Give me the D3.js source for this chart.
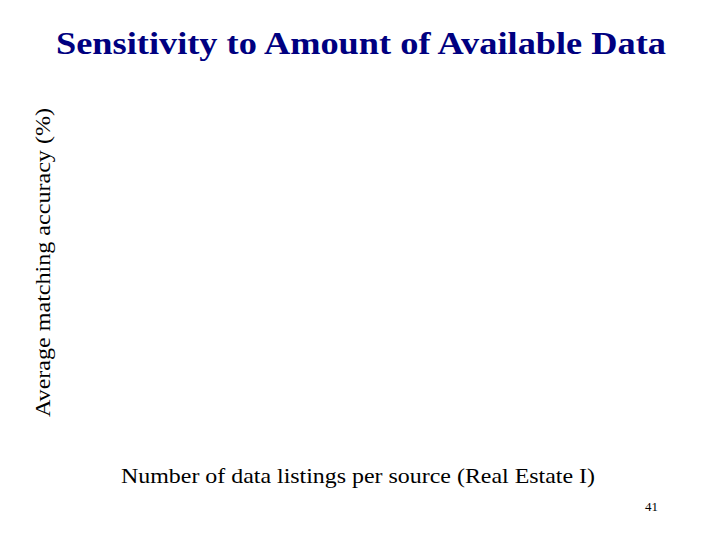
<!DOCTYPE html>
<html>
<head>
<meta charset="utf-8">
<script src="https://cdn.jsdelivr.net/npm/d3@7"></script>
<style>
  body { margin: 0; background: #fff; }
  text { font-family: "Liberation Serif", "Times New Roman", serif; }
</style>
</head>
<body>
<div id="chart"></div>
<script>
// the slide shows an empty plot: no series were drawn
var categories = [];
var seriesValues = [];
var xTickLabels = [];
var yTickLabels = [];

var titleText = "Sensitivity to Amount of Available Data";
var xLabelText = "Number of data listings per source (Real Estate I)";
var yLabelText = "Average matching accuracy (%)";
var pageNumber = "41";

var svgWidth = 720;
var svgHeight = 540;

var margin = { top: 80, right: 60, bottom: 90, left: 70 };
var width = svgWidth - margin.left - margin.right;
var height = svgHeight - margin.top - margin.bottom;

var svg = d3.select("#chart")
  .append("svg")
  .attr("width", svgWidth)
  .attr("height", svgHeight);

var chartGroup = svg.append("g")
  .attr("transform", `translate(${margin.left}, ${margin.top})`);

// scales exist but there is nothing to plot
var xScale = d3.scalePoint().domain(categories).range([0, width]);
var yScale = d3.scaleLinear().domain([0, 100]).range([height, 0]);

chartGroup.selectAll("circle")
  .data(seriesValues)
  .enter()
  .append("circle")
  .attr("cx", (d, i) => xScale(categories[i]))
  .attr("cy", d => yScale(d))
  .attr("r", 3);

// title
svg.append("text")
  .attr("x", 56)
  .attr("y", 54)
  .attr("textLength", 610)
  .attr("lengthAdjust", "spacingAndGlyphs")
  .style("font-size", "32px")
  .style("font-weight", "bold")
  .style("fill", "#000080")
  .text(titleText);

// y axis label
svg.append("text")
  .attr("transform", "translate(50, 417) rotate(-90)")
  .attr("textLength", 309)
  .attr("lengthAdjust", "spacingAndGlyphs")
  .style("font-size", "20px")
  .style("fill", "#000")
  .text(yLabelText);

// x axis label
svg.append("text")
  .attr("x", 121)
  .attr("y", 483)
  .attr("textLength", 474)
  .attr("lengthAdjust", "spacingAndGlyphs")
  .style("font-size", "21px")
  .style("fill", "#000")
  .text(xLabelText);

// slide number
svg.append("text")
  .attr("x", 645)
  .attr("y", 511)
  .style("font-size", "13px")
  .style("fill", "#000")
  .text(pageNumber);
</script>
</body>
</html>
